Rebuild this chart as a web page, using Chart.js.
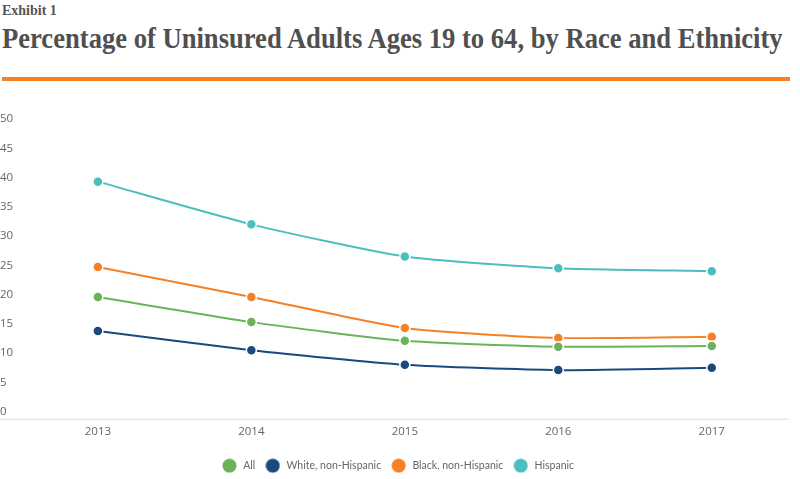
<!DOCTYPE html>
<html>
<head>
<meta charset="utf-8">
<script src="https://cdn.jsdelivr.net/npm/chart.js@4.4.1/dist/chart.umd.min.js"></script>
<style>
  html, body { margin: 0; padding: 0; background: #fff; }
  body { width: 800px; height: 479px; position: relative; overflow: hidden; }
  #exhibit { position: absolute; left: 2px; top: 3px; font: bold 14px "Liberation Serif", serif; color: #555; }
  #title { position: absolute; left: 2px; top: 21px; font: bold 30px "Liberation Serif", serif; color: #505050; white-space: nowrap; transform-origin: 0 0; }
  #rule { position: absolute; left: 2px; top: 77px; width: 788px; height: 4px; background: #f58025; }
  #wrap { position: absolute; left: 0; top: 95px; width: 795px; height: 386px; }
</style>
</head>
<body>
<div id="exhibit">Exhibit 1</div>
<div id="title">Percentage of Uninsured Adults Ages 19 to 64, by Race and Ethnicity</div>
<div id="rule"></div>
<div id="wrap"><canvas id="chart"></canvas></div>
<script>
    var years = ["2013", "2014", "2015", "2016", "2017"];
    var allAdults = [19.6, 15.3, 12.1, 11.1, 11.2];
    var white = [13.8, 10.5, 8.0, 7.1, 7.5];
    var black = [24.7, 19.6, 14.3, 12.6, 12.8];
    var hispanic = [39.3, 32.0, 26.5, 24.5, 24.0];
    var yTicks = [0, 5, 10, 15, 20, 25, 30, 35, 40, 45, 50];

    // squeeze the serif title to the width of the reference
    var title = document.getElementById("title");
    title.style.transform = "scaleX(" + (781 / title.offsetWidth) + ")";

    // legend dot as a small canvas so it keeps its round shape
    function dot(color) {
        var c = document.createElement("canvas");
        c.width = 15;
        c.height = 15;
        var g = c.getContext("2d");
        g.fillStyle = color;
        g.beginPath();
        g.arc(7.5, 7.5, 7, 0, Math.PI * 2);
        g.fill();
        return c;
    }

    function series(label, values, color) {
        return {
            label: label,
            data: values,
            borderColor: color,
            backgroundColor: color,
            borderWidth: 2,
            pointRadius: 5,
            pointBorderColor: "#fff",
            pointBorderWidth: 1.5,
            pointHoverRadius: 5,
            legendDot: dot(color),
            tension: 0.2
        };
    }

    var baseline = {
        id: "baseline",
        afterDraw: function(chart) {
            var ctx = chart.ctx, area = chart.chartArea;
            ctx.save();
            ctx.strokeStyle = "#dcdcdc";
            ctx.lineWidth = 1;
            ctx.beginPath();
            ctx.moveTo(0, area.bottom + 0.5);
            ctx.lineTo(area.right, area.bottom + 0.5);
            ctx.stroke();
            ctx.restore();
        }
    };

    var tickFont = { family: "Open Sans", size: 11.5 };

    var chart = new Chart(document.getElementById("chart").getContext("2d"), {
        type: "line",
        data: {
            labels: years,
            datasets: [
                series("All", allAdults, "#6ab35b"),
                series("White, non-Hispanic", white, "#1a4a7d"),
                series("Black, non-Hispanic", black, "#f58025"),
                series("Hispanic", hispanic, "#4bbfbf")
            ]
        },
        options: {
            responsive: true,
            maintainAspectRatio: false,
            animation: false,
            layout: { padding: { top: 24, right: 0, left: 0, bottom: 0 } },
            plugins: {
                legend: {
                    position: "bottom",
                    labels: {
                        usePointStyle: true,
                        pointStyleWidth: 17,
                        boxHeight: 11,
                        padding: 9,
                        color: "#666",
                        font: { family: "Lato", size: 10.5 },
                        generateLabels: function(chart) {
                            var items = Chart.defaults.plugins.legend.labels.generateLabels(chart);
                            items.forEach(function(item) {
                                item.pointStyle = chart.data.datasets[item.datasetIndex].legendDot;
                            });
                            return items;
                        }
                    }
                },
                tooltip: { enabled: false }
            },
            scales: {
                x: {
                    offset: true,
                    grid: { display: false, drawTicks: false },
                    border: { display: false },
                    ticks: { color: "#666", font: tickFont, padding: 6 },
                    afterFit: function(scale) { scale.height += 7; }
                },
                y: {
                    min: -1.2,
                    max: 50,
                    afterBuildTicks: function(scale) {
                        scale.ticks = yTicks.map(function(v) { return { value: v }; });
                    },
                    grid: { display: false, drawTicks: false },
                    border: { display: false },
                    ticks: { color: "#666", crossAlign: "far", padding: 4, font: tickFont }
                }
            }
        },
        plugins: [baseline]
    });
</script>
</body>
</html>
